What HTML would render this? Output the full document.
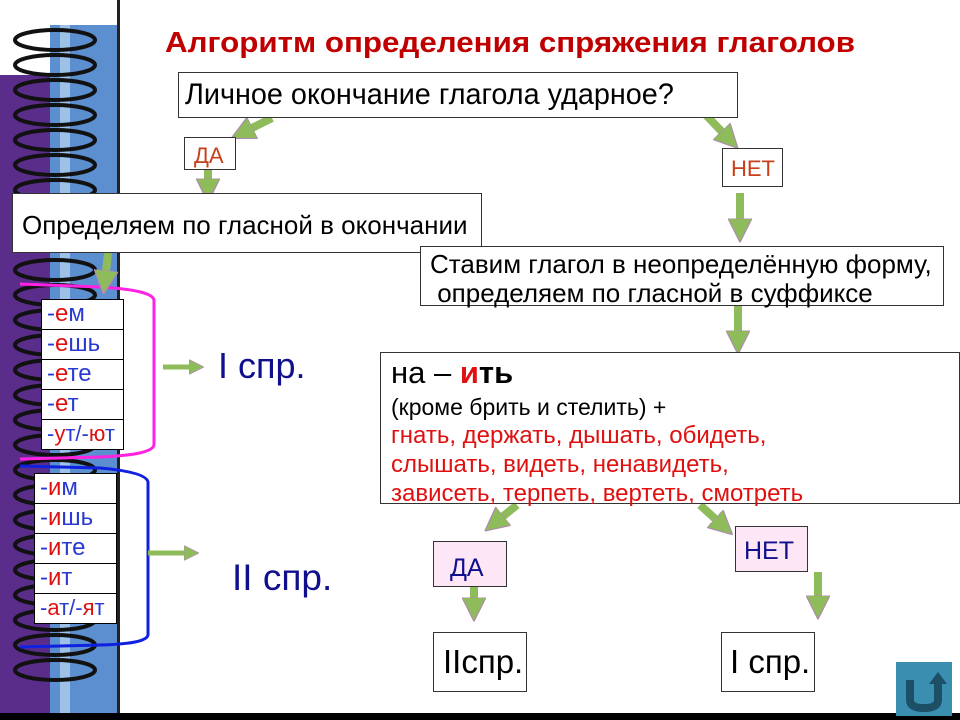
<!DOCTYPE html>
<html><head><meta charset="utf-8"><style>
body{margin:0;width:960px;height:720px;overflow:hidden;background:#fff;position:relative;font-family:"Liberation Sans","Noto Sans CJK SC",sans-serif}
.b{position:absolute;border:1px solid #333;background:#fff;box-sizing:border-box}
.t{position:absolute;white-space:nowrap}
.r{color:#e01010}.u{color:#2a3ad0}
.row{position:absolute;border:1px solid #000;background:#fff;box-sizing:border-box;font-size:24px;padding-left:5px;line-height:28px;height:31px;overflow:visible;white-space:nowrap}
</style></head><body>
<svg width="960" height="720" style="position:absolute;left:0;top:0">
<defs><marker id="m" markerWidth="3" markerHeight="3" refX="1.2" refY="1.5" orient="auto" markerUnits="strokeWidth"><path d="M0,0 L3,1.5 L0,3Z" fill="#8fbc5a" stroke="#b08ab0" stroke-width="0.15"/></marker></defs>
<rect x="0" y="75" width="60" height="640" fill="#5a2d8a"/>
<rect x="50" y="25" width="68" height="690" fill="#5b8fcf"/>
<rect x="60" y="25" width="10" height="690" fill="#9ec1e8"/>
<rect x="117" y="0" width="3" height="715" fill="#222"/>
<g fill="none" stroke="#111" stroke-width="4">
<ellipse cx="55" cy="40" rx="40" ry="10"/><ellipse cx="55" cy="65" rx="40" ry="10"/><ellipse cx="55" cy="90" rx="40" ry="10"/><ellipse cx="55" cy="115" rx="40" ry="10"/><ellipse cx="55" cy="140" rx="40" ry="10"/><ellipse cx="55" cy="165" rx="40" ry="10"/><ellipse cx="55" cy="190" rx="40" ry="10"/><ellipse cx="55" cy="270" rx="40" ry="10"/><ellipse cx="55" cy="295" rx="40" ry="10"/><ellipse cx="55" cy="320" rx="40" ry="10"/><ellipse cx="55" cy="345" rx="40" ry="10"/><ellipse cx="55" cy="370" rx="40" ry="10"/><ellipse cx="55" cy="395" rx="40" ry="10"/><ellipse cx="55" cy="420" rx="40" ry="10"/><ellipse cx="55" cy="445" rx="40" ry="10"/><ellipse cx="55" cy="470" rx="40" ry="10"/><ellipse cx="55" cy="495" rx="40" ry="10"/><ellipse cx="55" cy="520" rx="40" ry="10"/><ellipse cx="55" cy="545" rx="40" ry="10"/><ellipse cx="55" cy="570" rx="40" ry="10"/><ellipse cx="55" cy="595" rx="40" ry="10"/><ellipse cx="55" cy="620" rx="40" ry="10"/><ellipse cx="55" cy="645" rx="40" ry="10"/><ellipse cx="55" cy="670" rx="40" ry="10"/>
</g>
<rect x="0" y="713" width="960" height="7" fill="#000"/>
<path d="M20,284 L100,287 Q152,290 154,300 L154,445 Q152,455 100,457 L20,459" fill="none" stroke="#ff22e0" stroke-width="3"/>
<path d="M20,466 L100,468 Q146,472 148,482 L148,635 Q146,644 100,645 L20,647" fill="none" stroke="#1020e0" stroke-width="3"/>
<g stroke="#8fbc5a" stroke-width="8" marker-end="url(#m)">
<line x1="272" y1="118" x2="244" y2="132"/>
<line x1="208" y1="170" x2="208" y2="188"/>
<line x1="703" y1="112" x2="728" y2="138"/>
<line x1="740" y1="193" x2="740" y2="228"/>
<line x1="108" y1="253" x2="105" y2="280"/>
<line x1="738" y1="306" x2="738" y2="340"/>
<line x1="517" y1="505" x2="496" y2="522"/>
<line x1="700" y1="505" x2="722" y2="525"/>
<line x1="474" y1="587" x2="474" y2="607"/>
<line x1="818" y1="572" x2="818" y2="605"/>
<line x1="163" y1="367" x2="195" y2="367" stroke-width="5"/>
<line x1="148" y1="553" x2="190" y2="553" stroke-width="5"/>
</g>
<rect x="896" y="662" width="56" height="54" fill="#3a8fb0"/>
<path d="M910,680 L910,700 Q910,708 924,708 Q938,708 938,700 L938,682" fill="none" stroke="#1d4f66" stroke-width="8"/>
<path d="M929,684 L938,672 L947,684Z" fill="#1d4f66"/>
</svg>
<div class="t" style="left:165px;top:27px;font-size:29px;font-weight:bold;color:#c00000;transform:scaleX(1.08);transform-origin:left">Алгоритм определения спряжения глаголов</div>
<div class="b" style="left:178px;top:72px;width:560px;height:46px"><div class="t" style="left:6px;top:5px;font-size:30px;transform:scaleX(0.96);transform-origin:left">Личное окончание глагола ударное?</div></div>
<div class="b" style="left:184px;top:137px;width:52px;height:33px"><div class="t" style="left:9px;top:5px;font-size:22px;color:#c8401a">ДА</div></div>
<div class="b" style="left:722px;top:148px;width:61px;height:39px"><div class="t" style="left:8px;top:7px;font-size:22px;color:#c8401a">НЕТ</div></div>
<div class="b" style="left:12px;top:193px;width:470px;height:60px"><div class="t" style="left:9px;top:16px;font-size:26px">Определяем по гласной в окончании</div></div>
<div class="b" style="left:420px;top:246px;width:524px;height:60px"><div class="t" style="left:9px;top:3px;font-size:26px;line-height:29px">Ставим глагол в неопределённую форму,<br>&nbsp;определяем по гласной в суффиксе</div></div>
<div class="b" style="left:380px;top:352px;width:580px;height:152px"><div class="t" style="left:10px;top:2px;font-size:31px">на – <b><span class="r">и</span>ть</b></div>
<div class="t" style="left:10px;top:40px;font-size:23px;line-height:28px">(кроме брить и стелить) +<br><span class="r" style="font-size:24px">гнать, держать, дышать, обидеть,<br>слышать, видеть, ненавидеть,<br>зависеть, терпеть, вертеть, смотреть</span></div></div>
<div class="b" style="left:433px;top:541px;width:74px;height:46px;background:#fde6f5"><div class="t" style="left:16px;top:12px;font-size:25px;color:#10108c">ДА</div></div>
<div class="b" style="left:735px;top:526px;width:73px;height:46px;background:#fde6f5"><div class="t" style="left:8px;top:10px;font-size:25px;color:#10108c">НЕТ</div></div>
<div class="b" style="left:433px;top:632px;width:94px;height:60px"><div class="t" style="left:9px;top:10px;font-size:33px">IIспр.</div></div>
<div class="b" style="left:721px;top:632px;width:94px;height:60px"><div class="t" style="left:8px;top:10px;font-size:33px">I спр.</div></div>
<div class="t" style="left:218px;top:345px;font-size:36px;color:#10108c">I спр.</div>
<div class="t" style="left:232px;top:557px;font-size:37px;color:#10108c">II спр.</div>
<div class="row u" style="left:41px;top:299px;width:83px">-<span class="r">е</span>м</div>
<div class="row u" style="left:41px;top:329px;width:83px">-<span class="r">е</span>шь</div>
<div class="row u" style="left:41px;top:359px;width:83px">-<span class="r">е</span>те</div>
<div class="row u" style="left:41px;top:389px;width:83px">-<span class="r">е</span>т</div>
<div class="row u" style="left:41px;top:419px;width:83px;font-size:22px">-<span class="r">у</span>т/-<span class="r">ю</span>т</div>
<div class="row u" style="left:34px;top:473px;width:83px">-<span class="r">и</span>м</div>
<div class="row u" style="left:34px;top:503px;width:83px">-<span class="r">и</span>шь</div>
<div class="row u" style="left:34px;top:533px;width:83px">-<span class="r">и</span>те</div>
<div class="row u" style="left:34px;top:563px;width:83px">-<span class="r">и</span>т</div>
<div class="row u" style="left:34px;top:593px;width:83px;font-size:22px">-<span class="r">а</span>т/-<span class="r">я</span>т</div>
</body></html>
